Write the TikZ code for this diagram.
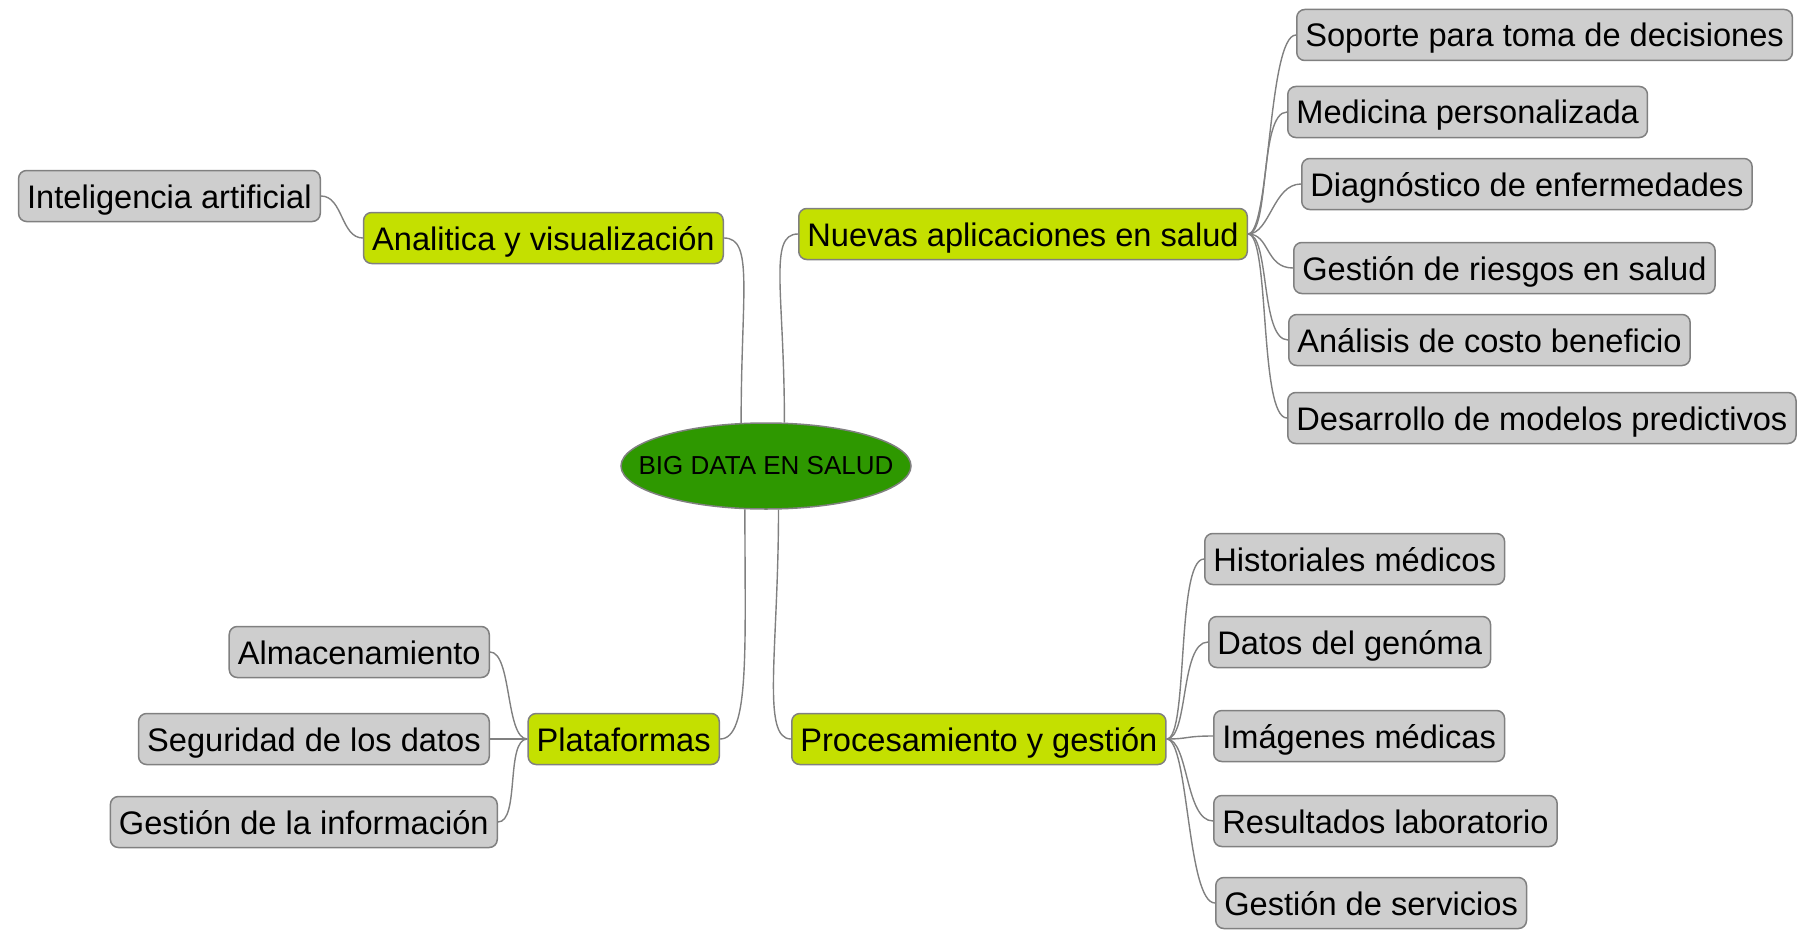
\documentclass[tikz,border=0pt]{standalone}
\usepackage{fontspec}
\setmainfont{Liberation Sans}
\usetikzlibrary{shapes.geometric}
\definecolor{hubgreen}{RGB}{46,152,0}
\definecolor{lime}{RGB}{196,224,0}
\definecolor{leafgray}{RGB}{206,206,206}
\definecolor{edgegray}{RGB}{128,128,128}

\begin{document}
\begin{tikzpicture}[x=0.5pt,y=-0.5pt,
  box/.style={draw=edgegray,line width=0.75pt,rounded corners=4pt,
    minimum height=25.5pt,inner xsep=4.3pt,inner ysep=0pt,
    text height=12pt,text depth=0pt,
    font=\fontsize{16.3}{19}\selectfont},
  topic/.style={box,fill=lime},
  leaf/.style={box,fill=leafgray},
  link/.style={draw=edgegray,line width=0.7pt}]
  \useasboundingbox (0,0) rectangle (1808,931);

  \node[ellipse,draw=edgegray,line width=0.75pt,fill=hubgreen,
    minimum width=145pt,minimum height=43pt,inner sep=0pt,
    font=\fontsize{13}{15}\selectfont] (hub) at (766,466)
    {\makebox[0pt]{BIG DATA EN SALUD}};

  \node[topic,anchor=east] (ana) at (724,238) {Analitica y visualización};
  \node[topic,anchor=west] (nuevas) at (798,234) {Nuevas aplicaciones en salud};
  \node[topic,anchor=east] (plat) at (720,739) {Plataformas};
  \node[topic,anchor=west] (proc) at (791,739) {Procesamiento y gestión};

  \node[leaf,anchor=east] (ia) at (321,196) {Inteligencia artificial};

  \node[leaf,anchor=west] (soporte) at (1296,35) {Soporte para toma de decisiones};
  \node[leaf,anchor=west] (medicina) at (1287,112) {Medicina personalizada};
  \node[leaf,anchor=west] (diag) at (1301,184) {Diagnóstico de enfermedades};
  \node[leaf,anchor=west] (riesgos) at (1293,268) {Gestión de riesgos en salud};
  \node[leaf,anchor=west] (costo) at (1288,340) {Análisis de costo beneficio};
  \node[leaf,anchor=west] (modelos) at (1287,418) {Desarrollo de modelos predictivos};

  \node[leaf,anchor=east] (alm) at (490,652) {Almacenamiento};
  \node[leaf,anchor=east] (seg) at (490,739) {Seguridad de los datos};
  \node[leaf,anchor=east] (gestinfo) at (498,822) {Gestión de la información};

  \node[leaf,anchor=west] (hist) at (1204,559) {Historiales médicos};
  \node[leaf,anchor=west] (genoma) at (1208,642) {Datos del genóma};
  \node[leaf,anchor=west] (imag) at (1213,736) {Imágenes médicas};
  \node[leaf,anchor=west] (result) at (1213,821) {Resultados laboratorio};
  \node[leaf,anchor=west] (serv) at (1215,903) {Gestión de servicios};

  % hub to topics
  \draw[link] (hub.120) .. controls +(0,-130) and +(30,0) .. (ana.east);
  \draw[link] (hub.67) .. controls +(0,-130) and +(-30,0) .. (nuevas.west);
  \draw[link] (hub.244) .. controls +(0,140) and +(30,0) .. (plat.east);
  \draw[link] (hub.286) .. controls +(0,140) and +(-30,0) .. (proc.west);

  % topics to leaves
  \draw[link] (ana.west) .. controls +(-22,0) and +(22,0) .. (ia.east);
  \foreach \c in {soporte,medicina,diag,riesgos,costo,modelos}
    \draw[link] (nuevas.east) .. controls +(22,0) and +(-28,0) .. (\c.west);
  \foreach \c in {alm,seg,gestinfo}
    \draw[link] (plat.west) .. controls +(-22,0) and +(22,0) .. (\c.east);
  \foreach \c in {hist,genoma,imag,result,serv}
    \draw[link] (proc.east) .. controls +(22,0) and +(-28,0) .. (\c.west);
\end{tikzpicture}
\end{document}
